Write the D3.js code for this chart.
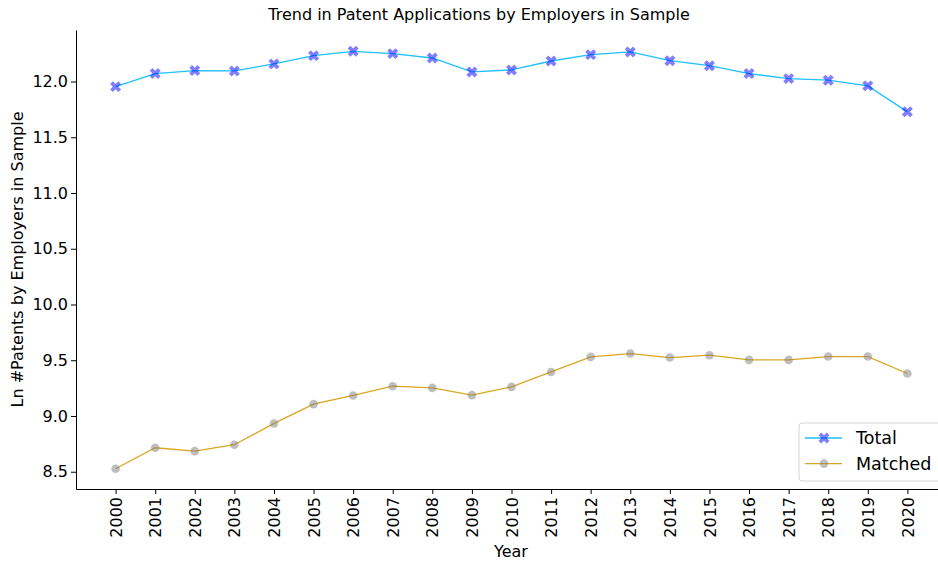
<!DOCTYPE html>
<html>
<head>
<meta charset="utf-8">
<script src="https://cdn.jsdelivr.net/npm/d3@7"></script>
<style>
  body { margin: 0; background: #fff; }
  text { font-family: "DejaVu Sans", sans-serif; }
</style>
</head>
<body>
<script>
// values
var years = d3.range(2000, 2021);
var total = [11.954, 12.071, 12.098, 12.095, 12.158, 12.232, 12.271, 12.250, 12.211, 12.086,
             12.104, 12.184, 12.241, 12.265, 12.187, 12.142, 12.071, 12.026, 12.012, 11.961, 11.728];
var matched = [8.527, 8.715, 8.685, 8.742, 8.933, 9.106, 9.184, 9.267, 9.252, 9.187,
               9.261, 9.395, 9.530, 9.560, 9.524, 9.545, 9.503, 9.503, 9.533, 9.533, 9.381];
var yTicks = [8.5, 9.0, 9.5, 10.0, 10.5, 11.0, 11.5, 12.0];
var seriesNames = ["Total", "Matched"];

var width = 938, height = 561;
var margin = {top: 30, left: 76, bottom: 72};

const svg = d3.select("body")
    .append("svg")
    .attr("width", width)
    .attr("height", height);

var xscale = d3.scaleLinear()
    .domain([1999, 2021])
    .range([margin.left, 947]);

var yscale = d3.scaleLinear()
    .domain([8.345, 12.462])
    .range([height - margin.bottom, margin.top]);

// x-axis
var xAxis = svg.append("g")
    .attr("transform", `translate(0,${height - margin.bottom})`)
    .call(d3.axisBottom(xscale).tickValues(years).tickFormat(d3.format("d")).tickSize(5).tickSizeOuter(0));
xAxis.selectAll(".tick text")
    .attr("transform", "rotate(-90)")
    .attr("text-anchor", "end")
    .attr("x", -8)
    .attr("y", 0)
    .attr("dy", "0.35em")
    .attr("font-size", 16)
    .attr("fill", "#000");

// y-axis
var yAxis = svg.append("g")
    .attr("transform", `translate(${margin.left},0)`)
    .call(d3.axisLeft(yscale).tickValues(yTicks).tickFormat(d3.format(".1f")).tickSize(5).tickSizeOuter(0));
yAxis.selectAll(".tick text")
    .attr("font-size", 16)
    .attr("x", -8)
    .attr("fill", "#000");

svg.selectAll(".domain").attr("stroke", "#000").attr("stroke-width", 1);
svg.selectAll(".tick line").attr("stroke", "#000");

var totalData = years.map((y, i) => ({year: y, value: total[i]}));
var matchedData = years.map((y, i) => ({year: y, value: matched[i]}));

var line = d3.line()
    .x(d => xscale(d.year))
    .y(d => yscale(d.value));

var xMarker = d3.symbol().type(d3.symbolCross).size(75);

// Total
svg.append("path")
    .datum(totalData)
    .attr("fill", "none")
    .attr("stroke", "#1ec0ff")
    .attr("stroke-width", 1.3)
    .attr("d", line);
svg.append("g").selectAll("path")
    .data(totalData)
    .join("path")
    .attr("d", xMarker)
    .attr("transform", d => `translate(${xscale(d.year)},${yscale(d.value)}) rotate(45)`)
    .attr("fill", "blue")
    .attr("fill-opacity", 0.5);

// Matched
svg.append("path")
    .datum(matchedData)
    .attr("fill", "none")
    .attr("stroke", "#daa520")
    .attr("stroke-width", 1.3)
    .attr("d", line);
svg.append("g").selectAll("circle")
    .data(matchedData)
    .join("circle")
    .attr("cx", d => xscale(d.year))
    .attr("cy", d => yscale(d.value))
    .attr("r", 4.3)
    .attr("fill", "grey")
    .attr("fill-opacity", 0.5);

// title and labels
svg.append("text")
    .attr("x", 479)
    .attr("y", 20)
    .attr("text-anchor", "middle")
    .attr("font-size", 16)
    .text("Trend in Patent Applications by Employers in Sample");

svg.append("text")
    .attr("x", 511)
    .attr("y", 557)
    .attr("text-anchor", "middle")
    .attr("font-size", 16)
    .text("Year");

svg.append("text")
    .attr("transform", `translate(23,${(margin.top + height - margin.bottom) / 2}) rotate(-90)`)
    .attr("text-anchor", "middle")
    .attr("font-size", 16)
    .text("Ln #Patents by Employers in Sample");

// legend
var legend = svg.append("g").attr("transform", "translate(799,423)");
legend.append("rect")
    .attr("width", 160)
    .attr("height", 58)
    .attr("rx", 3)
    .attr("fill", "#fff")
    .attr("fill-opacity", 0.8)
    .attr("stroke", "#d6d6d6");

seriesNames.forEach((name, i) => {
    var ly = 15 + i * 25.6;
    legend.append("line")
        .attr("x1", 6).attr("x2", 43)
        .attr("y1", ly).attr("y2", ly)
        .attr("stroke", i == 0 ? "#1ec0ff" : "#daa520")
        .attr("stroke-width", 1.3);
    if (i == 0) {
        legend.append("path")
            .attr("d", xMarker)
            .attr("transform", `translate(25,${ly}) rotate(45)`)
            .attr("fill", "blue")
            .attr("fill-opacity", 0.5);
    } else {
        legend.append("circle")
            .attr("cx", 25).attr("cy", ly).attr("r", 4.3)
            .attr("fill", "grey")
            .attr("fill-opacity", 0.5);
    }
    legend.append("text")
        .attr("x", 57)
        .attr("y", ly)
        .attr("dy", "0.35em")
        .attr("font-size", 17.5)
        .text(name);
});
</script>
</body>
</html>
